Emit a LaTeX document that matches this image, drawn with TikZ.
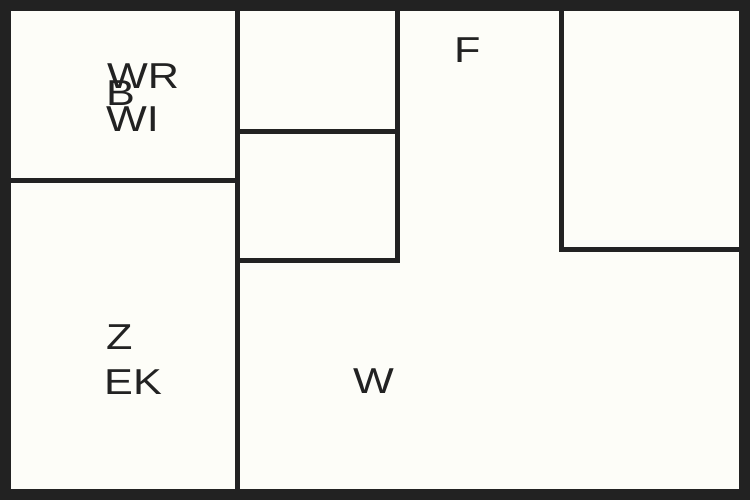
\documentclass[tikz,border=0pt]{standalone}
\usepackage{fontspec}
\newfontfamily\labelfont[FakeStretch=1.2]{Liberation Sans}
\definecolor{wallgray}{HTML}{222222}
\definecolor{paper}{HTML}{FDFDF8}
\tikzset{
  wall/.style={draw=wallgray, line width=5pt},
  roomlabel/.style={font=\labelfont\fontsize{36}{36}\selectfont, text=wallgray,
    anchor=base west, inner sep=0pt}
}
\begin{document}
\begin{tikzpicture}[x=1pt, y=-1pt]

  \useasboundingbox (0,0) rectangle (750,500);
  \fill[paper] (0,0) rectangle (750,500);

  % outer frame
  \draw[draw=wallgray, line width=11pt] (5.5,5.5) rectangle (744.5,494.5);

  % walls
  \draw[wall] (237,5) -- (237,495);
  \draw[wall] (10,181) -- (237,181);
  \draw[wall] (237,132) -- (397,132);
  \draw[wall] (397,5) -- (397,260) -- (237,260);
  \draw[wall] (561,5) -- (561,249) -- (740,249);

  % room names
  \node[roomlabel] (wr) at (107,89) {WR};
  \node[roomlabel] (b)  at (106,106) {B};
  \node[roomlabel] (wi) at (106,132) {WI};
  \node[roomlabel] (f)  at (454,63) {F};
  \node[roomlabel] (z)  at (106,349) {Z};
  \node[roomlabel] (ek) at (104,394) {EK};
  \node[roomlabel] (w)  at (353,393) {W};

\end{tikzpicture}
\end{document}
